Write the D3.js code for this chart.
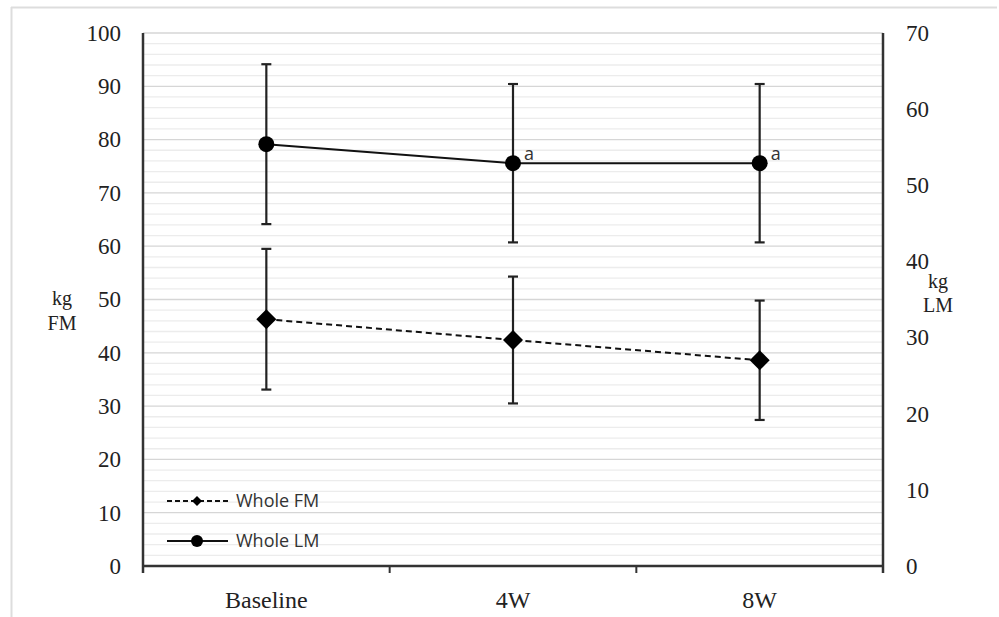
<!DOCTYPE html>
<html><head><meta charset="utf-8">
<script src="https://cdn.jsdelivr.net/npm/d3@7"></script>
<style>body{margin:0;background:#fff}</style>
</head><body>
<svg id="c" width="999" height="617"></svg>
<script>
const categories = ["Baseline", "4W", "8W"];
const fmMean = [46.3, 42.4, 38.6];
const fmSD   = [13.2, 11.9, 11.2];
const lmMean = [55.4, 52.9, 52.9];
const lmSD   = [10.5, 10.4, 10.4];
const lmMarks = ["", "a", "a"];
const leftTicks = [0,10,20,30,40,50,60,70,80,90,100];
const rightTicks = [0,10,20,30,40,50,60,70];
const seriesNames = ["Whole FM", "Whole LM"];

const svg = d3.select("#c");
const L = 143, R = 883, T = 33, B = 566;
const serif = "'Liberation Serif','Times New Roman',serif";
const sans = "'Open Sans','Noto Sans',sans-serif";

// outer frame
svg.append("line").attr("x1",11).attr("x2",997).attr("y1",7.5).attr("y2",7.5).attr("stroke","#ddd").attr("stroke-width",2);
svg.append("line").attr("x1",11.5).attr("x2",11.5).attr("y1",7).attr("y2",617).attr("stroke","#ddd").attr("stroke-width",2);

const yL = d3.scaleLinear().domain([0,100]).range([B,T]);
const yR = d3.scaleLinear().domain([0,70]).range([B,T]);
const x = d3.scaleBand().domain(categories).range([L,R]);
const xc = c => x(c) + x.bandwidth()/2;

// gridlines
const minor = d3.range(2,101,2);
svg.append("g").selectAll("line").data(minor).join("line")
  .attr("x1",L).attr("x2",R).attr("y1",d=>yL(d)).attr("y2",d=>yL(d))
  .attr("stroke", d=> d%10===0 ? "#d6d6d6" : "#ececec").attr("stroke-width",1.3);

// axes
const gl = svg.append("g").attr("transform",`translate(${L},0)`)
  .call(d3.axisLeft(yL).tickValues(leftTicks).tickSize(0).tickPadding(22));
gl.select(".domain").remove();
gl.selectAll("text").attr("font-family",serif).attr("font-size",23).attr("fill","#222");
const gr = svg.append("g").attr("transform",`translate(${R},0)`)
  .call(d3.axisRight(yR).tickValues(rightTicks).tickSize(0).tickPadding(23));
gr.select(".domain").remove();
gr.selectAll("text").attr("font-family",serif).attr("font-size",23).attr("fill","#222");

const ax = "#333";
svg.append("line").attr("x1",L).attr("x2",L).attr("y1",T).attr("y2",B+7).attr("stroke",ax).attr("stroke-width",2.5);
svg.append("line").attr("x1",R).attr("x2",R).attr("y1",T).attr("y2",B+7).attr("stroke",ax).attr("stroke-width",2.5);
svg.append("line").attr("x1",L).attr("x2",R).attr("y1",B).attr("y2",B).attr("stroke",ax).attr("stroke-width",2.5);
svg.append("g").selectAll("line").data(categories.slice(1)).join("line")
  .attr("x1",d=>x(d)).attr("x2",d=>x(d)).attr("y1",B).attr("y2",B+7).attr("stroke",ax).attr("stroke-width",2);
svg.append("g").selectAll("text").data(categories).join("text")
  .attr("x",d=>xc(d)).attr("y",608).attr("text-anchor","middle")
  .attr("font-family",serif).attr("font-size",24).attr("fill","#222").text(d=>d);

// axis titles
[["kg",62,305],["FM",62,330]].forEach(t=>svg.append("text").attr("x",t[1]).attr("y",t[2]).attr("text-anchor","middle").attr("font-family",serif).attr("font-size",20).attr("fill","#222").text(t[0]));
[["kg",938,288],["LM",938,312]].forEach(t=>svg.append("text").attr("x",t[1]).attr("y",t[2]).attr("text-anchor","middle").attr("font-family",serif).attr("font-size",20).attr("fill","#222").text(t[0]));

// error bars
function errbars(means, sds, y){
  const g = svg.append("g").attr("stroke","#222").attr("stroke-width",2.2);
  categories.forEach((c,i)=>{
    const cx = xc(c);
    g.append("line").attr("x1",cx).attr("x2",cx).attr("y1",y(means[i]+sds[i])).attr("y2",y(means[i]-sds[i]));
    [means[i]+sds[i], means[i]-sds[i]].forEach(v=>g.append("line").attr("x1",cx-5).attr("x2",cx+5).attr("y1",y(v)).attr("y2",y(v)));
  });
}
errbars(lmMean, lmSD, yR);
errbars(fmMean, fmSD, yL);

// lines
const lineLM = d3.line().x((d,i)=>xc(categories[i])).y(d=>yR(d));
const lineFM = d3.line().x((d,i)=>xc(categories[i])).y(d=>yL(d));
svg.append("path").attr("d",lineLM(lmMean)).attr("fill","none").attr("stroke","#111").attr("stroke-width",2);
svg.append("path").attr("d",lineFM(fmMean)).attr("fill","none").attr("stroke","#111").attr("stroke-width",2).attr("stroke-dasharray","6,4");

// markers
const diamond = d3.symbol().type(d3.symbolSquare).size(200);
svg.append("g").selectAll("circle").data(lmMean).join("circle")
  .attr("cx",(d,i)=>xc(categories[i])).attr("cy",d=>yR(d)).attr("r",8).attr("fill","#000");
svg.append("g").selectAll("path").data(fmMean).join("path")
  .attr("d",diamond).attr("transform",(d,i)=>`translate(${xc(categories[i])},${yL(d)}) rotate(45)`).attr("fill","#000");

// significance marks
svg.append("g").selectAll("text").data(lmMean).join("text")
  .attr("x",(d,i)=>xc(categories[i])+11).attr("y",d=>yR(d)-3)
  .attr("font-family",sans).attr("font-size",18).attr("fill","#333").text((d,i)=>lmMarks[i]);

// legend
const lg = svg.append("g");
lg.append("line").attr("x1",167).attr("x2",228).attr("y1",501).attr("y2",501).attr("stroke","#111").attr("stroke-width",2).attr("stroke-dasharray","5,3");
lg.append("path").attr("d",d3.symbol().type(d3.symbolSquare).size(50)).attr("transform","translate(197,501) rotate(45)").attr("fill","#000");
lg.append("line").attr("x1",167).attr("x2",228).attr("y1",541).attr("y2",541).attr("stroke","#111").attr("stroke-width",2);
lg.append("circle").attr("cx",197).attr("cy",541).attr("r",6).attr("fill","#000");
lg.selectAll("text").data(seriesNames).join("text")
  .attr("x",236).attr("y",(d,i)=>507+i*40).attr("font-family",sans).attr("font-size",18).attr("fill","#333").text(d=>d);
</script>
</body></html>
